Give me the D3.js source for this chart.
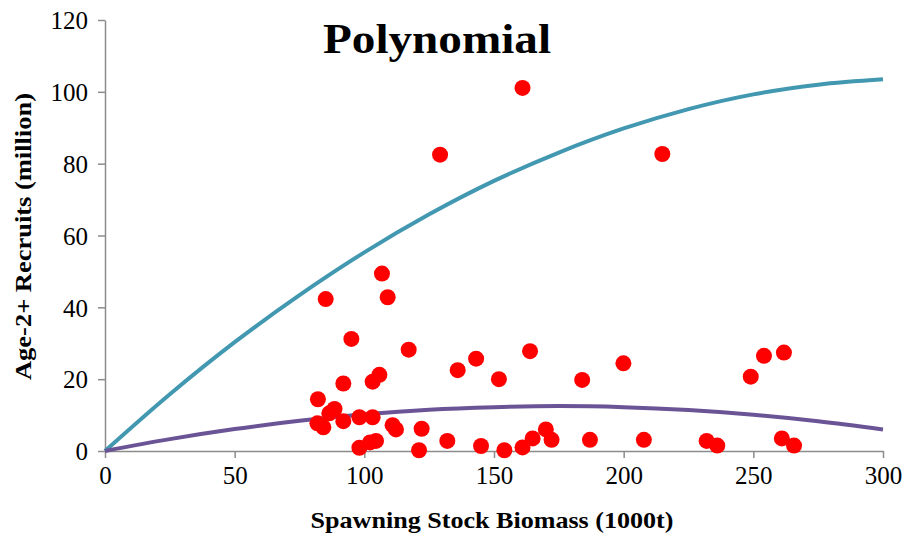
<!DOCTYPE html>
<html>
<head>
<meta charset="utf-8">
<script src="https://cdn.jsdelivr.net/npm/d3@7"></script>
<style>
  html, body { margin: 0; padding: 0; background: #fff; }
  svg { display: block; }
  text { font-family: "Liberation Serif", "Times New Roman", serif; }
</style>
</head>
<body>
<svg id="chart" width="906" height="536"></svg>
<script>
"use strict";

// observed stock–recruit pairs (SSB 1000t, recruits million)
const ssb = [
  82.1, 81.9, 84.2, 85.1, 86.5, 88.5, 91.9, 91.9, 95.0, 98.1,
  98.1, 102.2, 103.2, 104.5, 103.2, 105.8, 106.8, 109.0, 110.9, 112.2,
  117.1, 121.1, 122.1, 129.2, 132.0, 136.0, 143.1, 145.0, 151.9, 154.0,
  161.0, 161.0, 163.9, 164.9, 170.0, 172.2, 184.0, 187.0, 199.9, 207.8,
  214.9, 232.0, 236.1, 249.0, 254.1, 261.0, 261.8, 265.7
];
const recruits = [
  14.4, 7.7, 6.6, 42.3, 10.5, 11.7, 8.3, 18.8, 31.2, 0.9,
  9.4, 2.4, 9.4, 2.8, 19.3, 21.2, 49.4, 42.8, 7.2, 6.0,
  28.2, 0.2, 6.2, 82.5, 2.8, 22.5, 25.7, 1.4, 20.0, 0.2,
  101.1, 1.0, 27.8, 3.5, 6.0, 3.1, 19.8, 3.1, 24.4, 3.1,
  82.7, 2.8, 1.5, 20.7, 26.5, 3.5, 27.4, 1.5
];

// fitted curves, every 25 units of SSB
const curveX = [0, 25, 50, 75, 100, 125, 150, 175, 200, 225, 250, 275, 300];
const upperFit = [0, 15.8, 30.3, 43.4, 55.3, 65.9, 75.2, 83.1, 89.8, 95.2, 99.3, 102.0, 103.5];
const lowerFit = [0, 3.3, 6.1, 8.4, 10.2, 11.5, 12.2, 12.5, 12.2, 11.4, 10.1, 8.3, 6.0];

const xTicks = [0, 50, 100, 150, 200, 250, 300];
const yTicks = [0, 20, 40, 60, 80, 100, 120];

const margin = { left: 105, right: 23, top: 20, bottom: 85 };
const W = 906, H = 536;
const serif = "'Liberation Serif', 'Times New Roman', serif";

const svg = d3.select("#chart");

const x = d3.scaleLinear().domain([0, 300]).range([margin.left, W - margin.right]);
const y = d3.scaleLinear().domain([0, 120]).range([H - margin.bottom, margin.top]);

const axisColor = "#8c8c8c";

// axes
const gx = svg.append("g")
  .attr("transform", `translate(0,${y(0)})`)
  .call(d3.axisBottom(x).tickValues(xTicks).tickSize(7).tickPadding(8).tickSizeOuter(0));
const gy = svg.append("g")
  .attr("transform", `translate(${x(0)},0)`)
  .call(d3.axisLeft(y).tickValues(yTicks).tickSize(7).tickPadding(10).tickSizeOuter(0));

[gx, gy].forEach((g) => {
  g.attr("font-family", serif).attr("font-size", 25);
  g.select(".domain").attr("stroke", axisColor).attr("stroke-width", 1.5);
  g.selectAll(".tick line").attr("stroke", axisColor).attr("stroke-width", 1.5);
  g.selectAll(".tick text")
    .attr("fill", "#000")
    .attr("font-family", serif)
    .attr("font-size", 25);
});
gy.selectAll(".tick text").attr("dy", "0.35em");

// fitted lines
const line = d3.line()
  .x((d, i) => x(curveX[i]))
  .y((d) => y(d))
  .curve(d3.curveMonotoneX);

svg.append("path")
  .datum(upperFit)
  .attr("d", line)
  .attr("fill", "none")
  .attr("stroke", "#4298b0")
  .attr("stroke-width", 4);

svg.append("path")
  .datum(lowerFit)
  .attr("d", line)
  .attr("fill", "none")
  .attr("stroke", "#6a5496")
  .attr("stroke-width", 4);

// observations
svg.append("g")
  .selectAll("circle")
  .data(ssb)
  .join("circle")
  .attr("cx", (d) => x(d))
  .attr("cy", (d, i) => y(recruits[i]))
  .attr("r", 8)
  .attr("fill", "#ff0000");

// titles
svg.append("text")
  .attr("x", 437)
  .attr("y", 53)
  .attr("text-anchor", "middle")
  .attr("textLength", 228)
  .attr("lengthAdjust", "spacingAndGlyphs")
  .style("font-size", "42px")
  .style("font-weight", "bold")
  .text("Polynomial");

svg.append("text")
  .attr("x", 492)
  .attr("y", 528)
  .attr("text-anchor", "middle")
  .attr("textLength", 363)
  .attr("lengthAdjust", "spacingAndGlyphs")
  .style("font-size", "24px")
  .style("font-weight", "bold")
  .text("Spawning Stock Biomass (1000t)");

svg.append("text")
  .attr("transform", "translate(31,236.5) rotate(-90)")
  .attr("text-anchor", "middle")
  .attr("textLength", 287)
  .attr("lengthAdjust", "spacingAndGlyphs")
  .style("font-size", "24px")
  .style("font-weight", "bold")
  .text("Age-2+ Recruits (million)");
</script>
</body>
</html>
